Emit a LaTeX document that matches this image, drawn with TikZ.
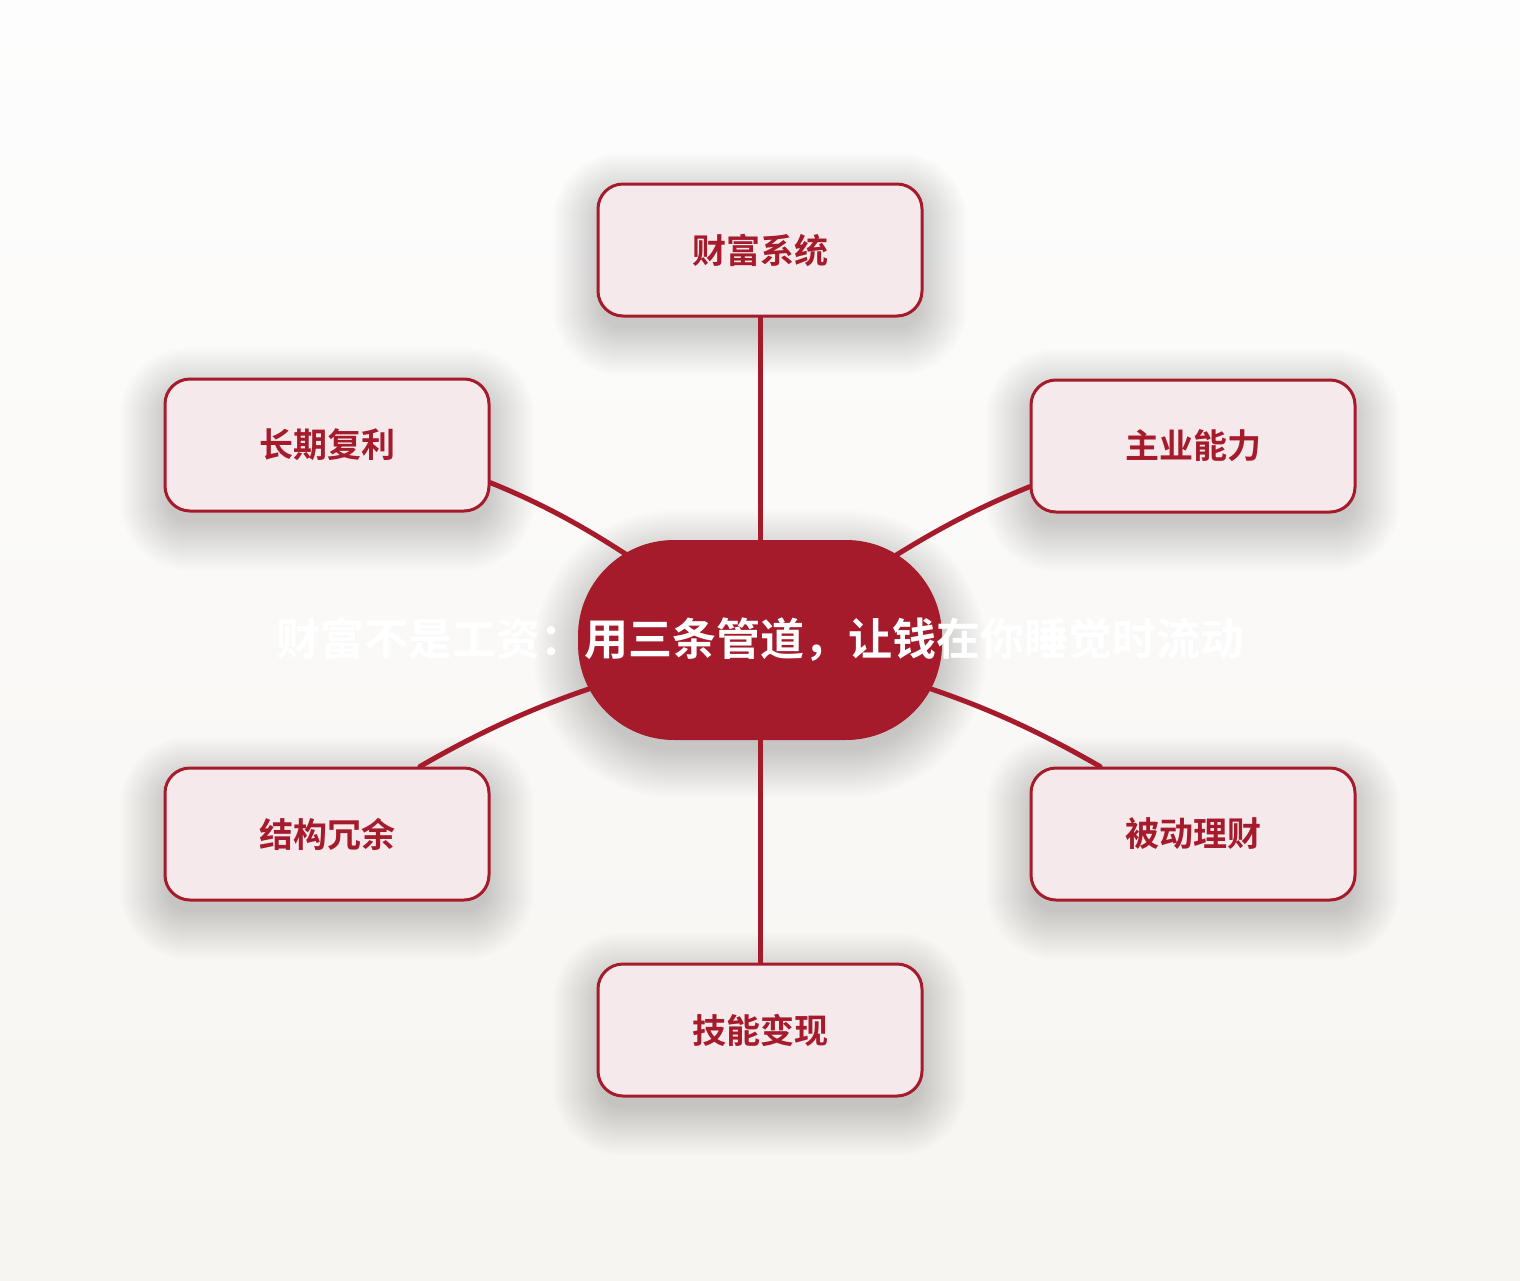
\documentclass[tikz,border=0pt]{standalone}
\usepackage{fontspec}
\setmainfont{Noto Sans CJK SC}[BoldFont={Noto Sans CJK SC Bold}]
\usetikzlibrary{backgrounds,calc}
\pgfdeclarelayer{bgfill}
\pgfdeclarelayer{shadowlayer}
\pgfsetlayers{bgfill,shadowlayer,background,main}
\definecolor{wred}{HTML}{A51B2B}
\definecolor{wpink}{HTML}{F5E9EC}
\definecolor{bgtop}{HTML}{FDFDFD}
\definecolor{bgbot}{HTML}{F7F5F1}
\tikzset{
  sat/.style={draw=wred, line width=3pt, fill=wpink, rounded corners=25pt,
    minimum width=324pt, minimum height=132pt, inner sep=0pt,
    text=wred, font=\fontsize{34}{40}\selectfont\bfseries},
  hub/.style={fill=wred, draw=none, rounded corners=96pt,
    minimum width=364pt, minimum height=200pt, inner sep=0pt,
    text=white, font=\fontsize{44}{50}\selectfont\bfseries},
  link/.style={draw=wred, line width=5pt, line cap=round},
  glow/.style={fill=black, fill opacity=0.009, draw=none}
}
% soft shadow made of stacked transparent rounded rectangles
\newcommand{\mysoftshadow}[2]{% node name, corner radius
  \foreach \s in {44,42,...,-4} {
    \pgfmathsetmacro{\rr}{max(#2+\s,2)}
    \fill[glow, rounded corners=\rr pt]
      ($(#1.south west)+(-\s,\s+14)$) rectangle ($(#1.north east)+(\s,-\s+14)$);
  }%
}
\begin{document}
\begin{tikzpicture}[x=1pt,y=-1pt]
\begin{pgfonlayer}{bgfill}
\shade[top color=bgtop, bottom color=bgbot] (0,0) rectangle (1520,1280);
\end{pgfonlayer}
\useasboundingbox (0,0) rectangle (1520,1280);
\node[hub] (c) at (760,640) {\raisebox{-3pt}{\makebox[0pt][c]{财富不是工资：用三条管道，让钱在你睡觉时流动}}};
\node[sat] (t) at (760,250) {财富系统};
\node[sat] (ur) at (1193,446) {主业能力};
\node[sat] (ul) at (327,445) {长期复利};
\node[sat] (ll) at (327,834) {结构冗余};
\node[sat] (lr) at (1193,834) {被动理财};
\node[sat] (b) at (760,1030) {技能变现};
\begin{pgfonlayer}{shadowlayer}
\mysoftshadow{c}{96}
\mysoftshadow{t}{25}
\mysoftshadow{ur}{25}
\mysoftshadow{ul}{25}
\mysoftshadow{ll}{25}
\mysoftshadow{lr}{25}
\mysoftshadow{b}{25}
\end{pgfonlayer}
\begin{scope}[on background layer]
\draw[link] (t.south) -- (c.north);
\draw[link] (c.south) -- (b.north);
\draw[link] (ul.-13.5) to[out=-22, in=150] (c.center);
\draw[link] (ur.-166) to[out=-158, in=30] (c.center);
\draw[link] (ll.36.4) to[out=30, in=-165] (c.center);
\draw[link] (lr.144.2) to[out=150, in=-15] (c.center);
\end{scope}
\end{tikzpicture}
\end{document}
